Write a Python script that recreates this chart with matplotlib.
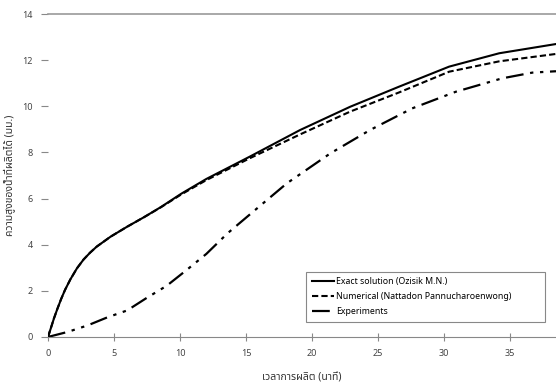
import matplotlib
matplotlib.use("Agg")
import matplotlib.pyplot as plt
from matplotlib import font_manager

# ---- data ----
t_model = [0, 0.2, 0.45, 0.7, 1.0, 1.3, 1.7, 2.2, 2.7, 3.2, 3.7, 4.75, 6, 7.3, 8.55, 10.1, 12, 15.3,
           19.1, 22.9, 26.6, 30.4, 34.2, 38.5]
exact = [0, 0.35, 0.8, 1.2, 1.65, 2.05, 2.5, 2.98, 3.36, 3.66, 3.92, 4.35, 4.78, 5.2, 5.63, 6.21,
         6.85, 7.82, 8.97, 9.98, 10.85, 11.72, 12.3, 12.7]
numerical = [0, 0.35, 0.8, 1.2, 1.65, 2.05, 2.5, 2.98, 3.36, 3.66, 3.92, 4.35, 4.78, 5.2, 5.62, 6.18,
             6.8, 7.75, 8.78, 9.77, 10.6, 11.5, 11.95, 12.27]
t_exp = [0, 1.5, 3, 4.5, 6, 7.5, 9, 10.5, 12, 13.6, 16, 18.1, 21.4, 24.4, 27.6, 30.9, 34.4, 36.7, 38.5]
experiments = [0, 0.22, 0.5, 0.85, 1.15, 1.7, 2.22, 2.9, 3.6, 4.49, 5.65, 6.66, 7.96, 8.97, 9.91,
               10.63, 11.21, 11.46, 11.52]
x_ticks = [0, 5, 10, 15, 20, 25, 30, 35]
y_ticks = [0, 2, 4, 6, 8, 10, 12, 14]
labels = ["Exact solution (Ozisik M.N.)",
          "Numerical (Nattadon Pannucharoenwong)",
          "Experiments"]
xlabel = "เวลาการผลิต (นาที)"
ylabel = "ความสูงของน้ำที่ผลิตได้ (มม.)"

names = {f.name for f in font_manager.fontManager.ttflist}
thai = [f for f in ["Noto Sans Thai", "Noto Sans Thai Looped", "Loma", "Garuda", "Norasi",
                    "Tlwg Typo", "Kinnari", "Waree", "Sawasdee"] if f in names]
fam = thai + ["DejaVu Sans"]
plt.rcParams['font.family'] = fam

fig = plt.figure(figsize=(5.56, 3.9), dpi=100)
ax = fig.add_axes([0.0863, 0.136, 0.9137, 0.828])

ax.plot(t_model, exact, color='black', lw=1.5, ls='-', label=labels[0])
ax.plot(t_model, numerical, color='black', lw=1.5, ls=(0, (3, 1.5)), label=labels[1])
ax.plot(t_exp, experiments, color='black', lw=1.6, ls=(0, (8, 3, 1.5, 3, 1.5, 3)), label=labels[2])

ax.set_xlim(0, 38.5)
ax.set_ylim(0, 14)
ax.set_xticks(x_ticks)
ax.set_yticks(y_ticks)
for s in ['left', 'right', 'top']:
    ax.spines[s].set_visible(False)
ax.spines['bottom'].set_color('#888888')
ax.axhline(14, color='#999999', lw=1.2, clip_on=False)
ax.tick_params(axis='x', direction='inout', length=6, color='#888888', labelsize=6.5,
               labelcolor='#444444', pad=6)
ax.tick_params(axis='y', direction='out', length=5, color='#888888', labelsize=6.5,
               labelcolor='#444444', pad=6)

ax.set_xlabel(xlabel, fontsize=7.5, color='#333333', labelpad=10)
ax.set_ylabel(ylabel, fontsize=7.5, color='#333333', labelpad=5)

leg = ax.legend(loc='lower left', bbox_to_anchor=(0.5, 0.034, 0.487, 0.195), mode='expand',
                fancybox=False, edgecolor='#888888', fontsize=6.3, handlelength=2.6,
                handletextpad=0.2, borderpad=0.6, labelspacing=0.7, framealpha=1)
leg.get_frame().set_linewidth(0.8)

fig.savefig("out.png", dpi=100)
